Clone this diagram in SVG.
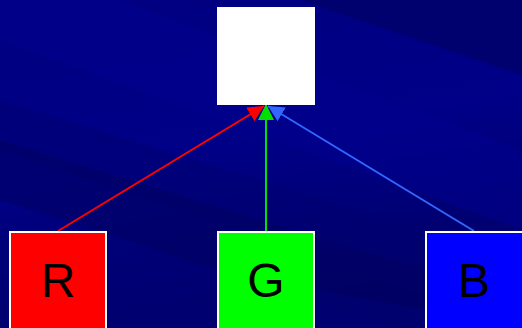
<svg xmlns="http://www.w3.org/2000/svg" width="522" height="328" viewBox="0 0 522 328">
<style>
.box{stroke:#ffffff;stroke-width:2}
.lbl{font-family:"Liberation Sans",Arial,sans-serif;font-size:48px;fill:#000000;text-anchor:middle}
.con{fill:none;stroke-width:2}
</style>
<defs>
<linearGradient id="bg" x1="0" y1="0" x2="0.25" y2="1">
<stop offset="0" stop-color="#000080"/>
<stop offset="0.5" stop-color="#000088"/>
<stop offset="1" stop-color="#000068"/>
</linearGradient>
<marker id="aR" viewBox="0 0 16 16" refX="16" refY="8" markerWidth="16" markerHeight="16" markerUnits="userSpaceOnUse" orient="auto"><path d="M0,0 L16,8 L0,16 Z" fill="#ff0000"/></marker>
<marker id="aG" viewBox="0 0 16 16" refX="16" refY="8" markerWidth="16" markerHeight="16" markerUnits="userSpaceOnUse" orient="auto"><path d="M0,0 L16,8 L0,16 Z" fill="#00e000"/></marker>
<marker id="aB" viewBox="0 0 16 16" refX="16" refY="8" markerWidth="16" markerHeight="16" markerUnits="userSpaceOnUse" orient="auto"><path d="M0,0 L16,8 L0,16 Z" fill="#3366ff"/></marker>
</defs>
<rect x="0" y="0" width="522" height="328" fill="url(#bg)"/>
<g opacity="1">
<polygon points="0,0 522,0 522,75 300,0" fill="#000060" opacity="0.6"/>
<polygon points="0,0 120,0 522,150 522,230 0,40" fill="#000090" opacity="0.5"/>
<polygon points="0,100 522,260 522,328 0,150" fill="#000070" opacity="0.5"/>
<polygon points="0,140 522,300 522,328 400,328 0,200" fill="#000060" opacity="0.5"/>
<polygon points="0,230 522,328 0,328" fill="#000078" opacity="0.5"/>
</g>
<g id="connectors">
<line class="con" x1="58" y1="231" x2="264" y2="106" stroke="#ff0000" marker-end="url(#aR)"/>
<line class="con" x1="474" y1="231" x2="268" y2="106" stroke="#3366ff" marker-end="url(#aB)"/>
<line class="con" x1="266" y1="231" x2="266" y2="104" stroke="#00e000" marker-end="url(#aG)"/>
</g>
<g id="node-top"><rect x="217" y="7" width="98" height="98" fill="#ffffff"/></g>
<g id="node-R"><rect class="box" x="10" y="232" width="96" height="98" fill="#ff0000"/><text class="lbl" x="58" y="297">R</text></g>
<g id="node-G"><rect class="box" x="218" y="232" width="96" height="98" fill="#00ff00"/><text class="lbl" x="266" y="297">G</text></g>
<g id="node-B"><rect class="box" x="426" y="232" width="98" height="98" fill="#0000ff"/><text class="lbl" x="474" y="297">B</text></g>
</svg>
